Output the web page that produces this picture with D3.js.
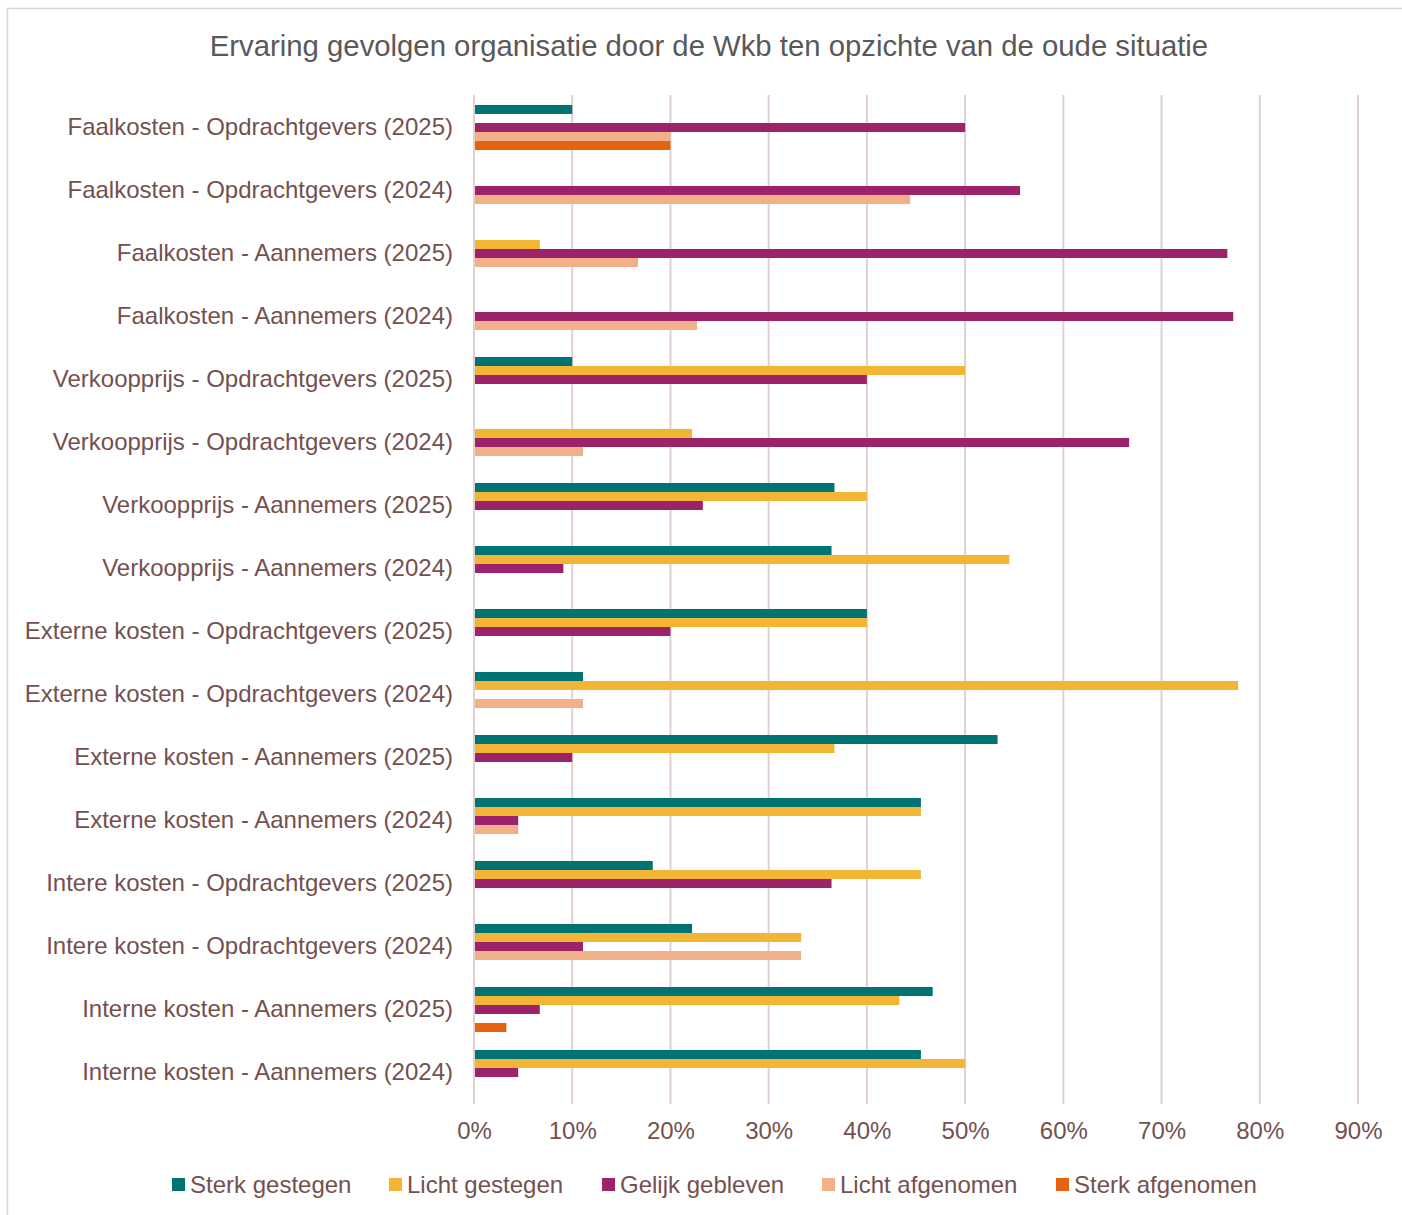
<!DOCTYPE html>
<html><head><meta charset="utf-8">
<script src="https://cdn.jsdelivr.net/npm/d3@7"></script>
<style>body{margin:0;background:#fff;} svg{display:block;font-family:"Liberation Sans",Arial,sans-serif;}</style>
</head><body>
<svg id="c" width="1402" height="1215"></svg>
<script>
const categories = [
 "Faalkosten - Opdrachtgevers (2025)",
 "Faalkosten - Opdrachtgevers (2024)",
 "Faalkosten - Aannemers (2025)",
 "Faalkosten - Aannemers (2024)",
 "Verkoopprijs - Opdrachtgevers (2025)",
 "Verkoopprijs - Opdrachtgevers (2024)",
 "Verkoopprijs - Aannemers (2025)",
 "Verkoopprijs - Aannemers (2024)",
 "Externe kosten - Opdrachtgevers (2025)",
 "Externe kosten - Opdrachtgevers (2024)",
 "Externe kosten - Aannemers (2025)",
 "Externe kosten - Aannemers (2024)",
 "Intere kosten - Opdrachtgevers (2025)",
 "Intere kosten - Opdrachtgevers (2024)",
 "Interne kosten - Aannemers (2025)",
 "Interne kosten - Aannemers (2024)"
];
const seriesNames = ["Sterk gestegen","Licht gestegen","Gelijk gebleven","Licht afgenomen","Sterk afgenomen"];
const seriesColors = ["#007373","#f2b535","#9c236a","#f2b088","#e5620f"];
const sterkGestegen  = [10, 0, 0, 0, 10, 0, 36.7, 36.4, 40, 11.1, 53.3, 45.5, 18.2, 22.2, 46.7, 45.5];
const lichtGestegen  = [0, 0, 6.7, 0, 50, 22.2, 40, 54.5, 40, 77.8, 36.7, 45.5, 45.5, 33.3, 43.3, 50];
const gelijkGebleven = [50, 55.6, 76.7, 77.3, 40, 66.7, 23.3, 9.1, 20, 0, 10, 4.5, 36.4, 11.1, 6.7, 4.5];
const lichtAfgenomen = [20, 44.4, 16.7, 22.7, 0, 11.1, 0, 0, 0, 11.1, 0, 4.5, 0, 33.3, 0, 0];
const sterkAfgenomen = [20, 0, 0, 0, 0, 0, 0, 0, 0, 0, 0, 0, 0, 0, 3.3, 0];
const seriesValues = [sterkGestegen, lichtGestegen, gelijkGebleven, lichtAfgenomen, sterkAfgenomen];
const xTicks = [0,10,20,30,40,50,60,70,80,90];
const chartTitle = "Ervaring gevolgen organisatie door de Wkb ten opzichte van de oude situatie";

(function(){
const svg = d3.select("#c");
const textColor = "#74504f";

svg.append("rect").attr("x",7.5).attr("y",8.5).attr("width",1400).attr("height",1215)
  .attr("fill","none").attr("stroke","#e3d2d2").attr("stroke-width",1.5);

const pLeft = 474, pRight = 1358, pTop = 96, pBottom = 1104;
const x = d3.scaleLinear().domain([0,90]).range([pLeft,pRight]);
const y = d3.scaleBand().domain(categories).range([pTop,pBottom]).paddingInner(18/63).paddingOuter(9/63);
const yInner = d3.scaleBand().domain(seriesNames).range([0,y.bandwidth()]);

svg.append("text").attr("x",709).attr("y",56).attr("text-anchor","middle")
  .attr("font-size",29.3).attr("fill","#595959").text(chartTitle);

svg.append("g").selectAll("line").data(xTicks).join("line")
  .attr("x1",d=>x(d)).attr("x2",d=>x(d)).attr("y1",pTop-1).attr("y2",pBottom)
  .attr("stroke","#e0d0d0").attr("stroke-width",2);

const g = svg.append("g");
seriesNames.forEach((s,si)=>{
  g.append("g").attr("fill",seriesColors[si]).selectAll("rect")
   .data(categories.map((c,i)=>({c,v:seriesValues[si][i]})).filter(d=>d.v>0))
   .join("rect")
   .attr("x",x(0)+1)
   .attr("y",d=>y(d.c)+yInner(s))
   .attr("width",d=>x(d.v)-x(0)-1)
   .attr("height",yInner.bandwidth());
});

const yAxis = d3.axisLeft(y).tickSize(0).tickPadding(21);
const ya = svg.append("g").attr("transform",`translate(${pLeft},0)`).call(yAxis);
ya.select(".domain").remove();
ya.selectAll("text").attr("font-size",24).attr("fill",textColor).attr("font-family","Liberation Sans, Arial, sans-serif");

const xAxis = d3.axisBottom(x).tickValues(xTicks).tickFormat(d=>d+"%").tickSize(0).tickPadding(18);
const xa = svg.append("g").attr("transform",`translate(0,${pBottom})`).call(xAxis);
xa.select(".domain").remove();
xa.selectAll("text").attr("font-size",24).attr("fill",textColor).attr("font-family","Liberation Sans, Arial, sans-serif");

const legendX = [172, 389, 602, 822, 1056];
const lg = svg.append("g");
seriesNames.forEach((s,i)=>{
  lg.append("rect").attr("x",legendX[i]).attr("y",1178).attr("width",13).attr("height",13).attr("fill",seriesColors[i]);
  lg.append("text").attr("x",legendX[i]+18).attr("y",1193).attr("font-size",24).attr("fill",textColor).text(s);
});
})();
</script>
</body></html>
